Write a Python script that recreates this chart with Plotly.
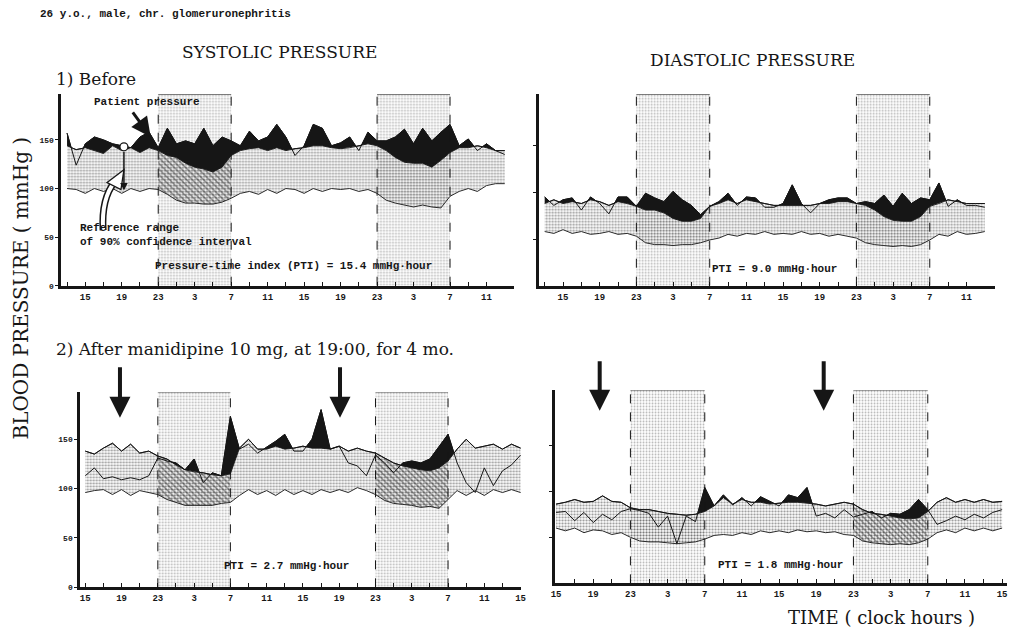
import plotly.graph_objects as go

W, H = 1020, 632

# ---------------- data ----------------
hours_before = list(range(13, 62))   # clock hours, continuous (24 = 0:00 of day 2)
hours_after = list(range(15, 64))

night_periods = [(23, 31), (47, 55)]

# 1) Before - systolic
sys_before_upper = [144, 140, 142, 139, 136, 144, 139, 142, 137, 142,
                    139, 134, 132, 126, 122, 120, 117, 122, 134, 139,
                    141, 142, 139, 142, 139, 141, 142, 144, 144, 142,
                    141, 142, 144, 146, 144, 139, 132, 127, 126, 126,
                    122, 129, 137, 142, 142, 144, 142, 139, 139]
sys_before_lower = [100, 99, 95, 100, 97, 100, 95, 100, 97, 100,
                    99, 94, 88, 85, 85, 84, 84, 86, 90, 95,
                    97, 94, 99, 95, 100, 99, 95, 100, 97, 100,
                    99, 100, 97, 99, 95, 88, 85, 83, 81, 83,
                    81, 80, 92, 97, 100, 97, 103, 105, 105]
sys_before_patient = [157, 124, 146, 153, 150, 146, 144, 142, 153, 158,
                      142, 162, 146, 149, 146, 162, 144, 153, 149, 144,
                      159, 149, 153, 166, 153, 134, 144, 166, 162, 144,
                      147, 153, 139, 158, 149, 149, 153, 161, 146, 162,
                      149, 158, 166, 144, 151, 139, 146, 139, 135]

# 1) Before - diastolic
dia_before_upper = [88, 92, 88, 90, 88, 92, 90, 86, 90, 88,
                    85, 81, 81, 78, 72, 69, 69, 72, 85, 88,
                    92, 88, 92, 90, 88, 86, 86, 86, 86, 86,
                    88, 88, 90, 90, 88, 86, 81, 74, 70, 69,
                    69, 74, 85, 88, 92, 90, 88, 88, 88]
dia_before_lower = [58, 56, 60, 56, 58, 55, 56, 58, 55, 56,
                    53, 46, 44, 44, 43, 44, 44, 46, 49, 51,
                    55, 53, 56, 55, 58, 55, 56, 55, 58, 55,
                    56, 53, 55, 53, 51, 46, 44, 43, 42, 43,
                    42, 44, 49, 55, 53, 58, 55, 56, 58]
dia_before_patient = [95, 86, 92, 94, 81, 95, 88, 77, 95, 95,
                      85, 99, 94, 90, 101, 92, 86, 76, 85, 90,
                      99, 86, 95, 94, 84, 84, 88, 108, 88, 78,
                      88, 92, 94, 94, 88, 90, 88, 97, 85, 99,
                      88, 94, 92, 110, 85, 92, 86, 86, 84]

# 2) After manidipine - systolic
sys_after_upper = [138, 135, 141, 146, 138, 145, 136, 138,
                   133, 130, 124, 119, 117, 116, 114, 113, 115,
                   141, 150, 140, 140, 143, 140, 141,
                   143, 141, 141, 140, 143, 138, 141, 138,
                   136, 131, 126, 123, 121, 119, 118, 121, 128,
                   140, 150, 141, 143, 145, 140, 145, 141]
sys_after_lower = [96, 98, 99, 94, 99, 93, 98, 96,
                   94, 89, 86, 83, 83, 83, 83, 85, 86,
                   93, 99, 94, 98, 93, 99, 94,
                   98, 94, 99, 96, 99, 96, 101, 98,
                   94, 88, 85, 84, 83, 81, 82, 80, 89,
                   98, 93, 98, 93, 99, 96, 99, 96]
sys_after_patient = [113, 121, 110, 112, 109, 111, 109, 113,
                     131, 128, 126, 119, 130, 106, 116, 113, 173,
                     140, 145, 136, 142, 148, 155, 138,
                     138, 150, 180, 140, 143, 126, 123, 113,
                     134, 126, 116, 126, 128, 126, 130, 143, 155,
                     126, 106, 96, 121, 103, 118, 124, 134]

# 2) After manidipine - diastolic
dia_after_upper = [86, 88, 91, 88, 89, 95, 89, 88,
                   82, 80, 80, 78, 76, 75, 74, 75, 78,
                   84, 93, 86, 91, 88, 88, 86,
                   87, 88, 88, 87, 86, 84, 86, 88,
                   86, 80, 76, 75, 73, 71, 70, 71, 78,
                   88, 93, 88, 91, 88, 91, 88, 89]
dia_after_lower = [60, 57, 60, 55, 58, 57, 53, 55,
                   50, 46, 45, 45, 44, 43, 44, 45, 48,
                   52, 53, 52, 55, 53, 57, 55,
                   57, 55, 58, 56, 57, 55, 56, 53,
                   52, 46, 44, 43, 42, 43, 42, 44, 48,
                   55, 58, 55, 60, 57, 60, 57, 60]
dia_after_patient = [77, 78, 68, 77, 66, 75, 69, 78,
                     81, 79, 76, 61, 73, 43, 73, 67, 104,
                     84, 96, 85, 93, 84, 94, 89,
                     84, 96, 93, 104, 73, 76, 71, 80,
                     72, 75, 78, 71, 76, 75, 80, 91, 80,
                     64, 68, 73, 69, 75, 71, 77, 80]

pti_texts = ["Pressure-time index (PTI) = 15.4 mmHg\u00b7hour",
             "PTI = 9.0 mmHg\u00b7hour",
             "PTI = 2.7 mmHg\u00b7hour",
             "PTI = 1.8 mmHg\u00b7hour"]
y_ticks = [0, 50, 100, 150]

# ---------------- layout helpers ----------------
SERIF = "DejaVu Serif"
MONO = "Liberation Mono"
INK = "#161616"


def fx(x):
    return x / W


def fy(y):
    return 1 - y / H


# pixel frame of each panel: x-domain, position of the first 15:00 tick,
# pixels per hour, y-domain (top, bottom), top value of the y range
panels = [
    dict(n="", hours=hours_before, up=sys_before_upper, lo=sys_before_lower,
         pt=sys_before_patient, dx=(58, 515), p15=82, s=9.2, dy=(95, 288),
         ytop=197, last=59, ylabels=True, hatch=[0],
         pti=(150, 268)),
    dict(n="2", hours=hours_before, up=dia_before_upper, lo=dia_before_lower,
         pt=dia_before_patient, dx=(540, 1000), p15=564, s=9.25, dy=(95, 288),
         ytop=205, last=59, ylabels=False, hatch=[],
         pti=(712, 271)),
    dict(n="3", hours=hours_after, up=sys_after_upper, lo=sys_after_lower,
         pt=sys_after_patient, dx=(77, 522), p15=82, s=9.15, dy=(395, 592),
         ytop=198, last=63, ylabels=True, hatch=[0, 1],
         pti=(220, 571)),
    dict(n="4", hours=hours_after, up=dia_after_upper, lo=dia_after_lower,
         pt=dia_after_patient, dx=(556, 1012), p15=557, s=9.375, dy=(393, 588),
         ytop=210, last=63, ylabels=False, hatch=[1],
         pti=(718, 570)),
]


def excess_band(h, p, u):
    """Points of the region where the patient curve lies above the upper limit."""
    xs, base, top = [], [], []
    for i in range(len(h)):
        if i > 0:
            d0 = p[i - 1] - u[i - 1]
            d1 = p[i] - u[i]
            if d0 * d1 < 0:
                t = d0 / (d0 - d1)
                xc = h[i - 1] + t * (h[i] - h[i - 1])
                yc = u[i - 1] + t * (u[i] - u[i - 1])
                xs.append(xc); base.append(yc); top.append(yc)
        xs.append(h[i]); base.append(u[i]); top.append(max(p[i], u[i]))
    return xs, base, top


def hour_label(h):
    return str(h % 24)


fig = go.Figure()
layout_axes = {}
shapes = []
annotations = []

box_pattern = dict(shape=".", fgcolor="#6a6a6a", bgcolor="white", size=3, solidity=0.3)
band_pattern = dict(shape=".", fgcolor="#2e2e2e", bgcolor="rgba(0,0,0,0)", size=3, solidity=0.42)
hatch_pattern = dict(shape="\\", fgcolor="#222222", bgcolor="rgba(0,0,0,0)", size=4, solidity=0.35)

for p in panels:
    xa = "x" + p["n"]
    ya = "y" + p["n"]
    h = p["hours"]
    common = dict(xaxis=xa, yaxis=ya, showlegend=False, hoverinfo="skip")

    # night boxes
    for a, b in night_periods:
        fig.add_trace(go.Scatter(x=[a, b, b, a, a], y=[0, 0, p["ytop"], p["ytop"], 0],
                                 mode="lines", line=dict(width=0), fill="toself",
                                 fillcolor="rgba(0,0,0,0)", fillpattern=box_pattern, **common))
    # reference range band
    fig.add_trace(go.Scatter(x=h, y=p["lo"], mode="lines",
                             line=dict(color="#2a2a2a", width=1), **common))
    fig.add_trace(go.Scatter(x=h, y=p["up"], mode="lines", fill="tonexty",
                             fillcolor="rgba(0,0,0,0)", fillpattern=band_pattern,
                             line=dict(color="#2a2a2a", width=1), **common))
    # hatched night part of the band
    for k in p["hatch"]:
        a, b = night_periods[k]
        idx = [i for i, t in enumerate(h) if a <= t <= b]
        hx = [h[i] for i in idx]
        fig.add_trace(go.Scatter(x=hx, y=[p["lo"][i] for i in idx], mode="lines",
                                 line=dict(width=0), **common))
        fig.add_trace(go.Scatter(x=hx, y=[p["up"][i] for i in idx], mode="lines",
                                 fill="tonexty", fillcolor="rgba(0,0,0,0)",
                                 fillpattern=hatch_pattern, line=dict(width=0), **common))
    # patient pressure above the reference range (black)
    xs, base, top = excess_band(h, p["pt"], p["up"])
    fig.add_trace(go.Scatter(x=xs, y=base, mode="lines", line=dict(width=0), **common))
    fig.add_trace(go.Scatter(x=xs, y=top, mode="lines", fill="tonexty", fillcolor=INK,
                             line=dict(color=INK, width=1), **common))
    # patient pressure curve
    fig.add_trace(go.Scatter(x=h, y=p["pt"], mode="lines",
                             line=dict(color=INK, width=1), **common))

    # axes
    d0, d1 = p["dx"]
    r0 = 15 + (d0 - p["p15"]) / p["s"]
    r1 = 15 + (d1 - p["p15"]) / p["s"]
    tickvals = list(range(13 if h[0] == 13 else 15, p["last"] + 1, 2))
    ticktext = [hour_label(t) if (t - 15) % 4 == 0 else "" for t in tickvals]
    xkey = "xaxis" + p["n"]
    ykey = "yaxis" + p["n"]
    layout_axes[xkey] = dict(domain=[fx(d0), fx(d1)], range=[r0, r1], anchor=ya,
                             showline=True, linewidth=3, linecolor=INK, showgrid=False,
                             zeroline=False, ticks="inside", ticklen=4, tickwidth=1,
                             tickcolor=INK, tickvals=tickvals, ticktext=ticktext,
                             tickfont=dict(family=MONO, size=9, color=INK, weight="bold"),
                             fixedrange=True)
    ty, by = p["dy"]
    layout_axes[ykey] = dict(domain=[fy(by), fy(ty)], range=[0, p["ytop"]], anchor=xa,
                             showline=True, linewidth=3, linecolor=INK, showgrid=False,
                             zeroline=False, ticks="outside", ticklen=3, tickwidth=1,
                             tickcolor=INK,
                             tickvals=y_ticks if p["ylabels"] else y_ticks[1:],
                             showticklabels=p["ylabels"],
                             tickfont=dict(family=MONO, size=8, color=INK, weight="bold"),
                             fixedrange=True)

    # night box outlines
    for a, b in night_periods:
        for xv in (a, b):
            shapes.append(dict(type="line", xref=xa, yref=ya, x0=xv, x1=xv, y0=0,
                               y1=p["ytop"], line=dict(color=INK, width=1, dash="dash")))
        shapes.append(dict(type="line", xref=xa, yref=ya, x0=a, x1=b, y0=p["ytop"],
                           y1=p["ytop"], line=dict(color=INK, width=1)))

# ---------------- texts ----------------
def label(text, x, y, size, family=SERIF, xanchor="left", bold=False, angle=0):
    annotations.append(dict(text=text, xref="paper", yref="paper", x=fx(x), y=fy(y),
                            xanchor=xanchor, yanchor="middle", showarrow=False,
                            textangle=angle,
                            font=dict(family=family, size=size, color=INK,
                                      weight="bold" if bold else "normal")))


label("26 y.o., male, chr. glomeruronephritis", 34, 14, 11, MONO, bold=True)
label("SYSTOLIC PRESSURE", 278, 52, 17, xanchor="center")
label("DIASTOLIC PRESSURE", 755, 60, 17, xanchor="center")
label("1) Before", 50, 80, 17)
label("2) After manidipine 10 mg, at 19:00, for 4 mo.", 50, 352, 17)
label("BLOOD PRESSURE ( mmHg )", 17, 290, 20, xanchor="center", angle=-90)
label("TIME ( clock hours )", 885, 622, 18, xanchor="center")
label("Patient pressure", 89, 103, 11, MONO, bold=True)
annotations.append(dict(text="Reference range<br>of 90% confidence interval", xref="paper",
                        yref="paper", x=fx(75), y=fy(237), xanchor="left", yanchor="middle",
                        align="left", showarrow=False,
                        font=dict(family=MONO, size=11, color=INK, weight="bold")))
for p, t in zip(panels, pti_texts):
    label(t, p["pti"][0], p["pti"][1], 11, MONO, bold=True)

# ---------------- arrows ----------------
def arrow(x0, y0, x1, y1, width, size, head=2, side="end"):
    # tail offset is given in pixels relative to the tip
    annotations.append(dict(x=fx(x1), y=fy(y1), ax=x0 - x1, ay=y0 - y1, xref="paper",
                            yref="paper", text="", showarrow=True, arrowhead=head,
                            arrowsize=size, arrowwidth=width, arrowcolor=INK,
                            arrowside=side))


# "Patient pressure" pointer
arrow(129, 112, 148, 138, 3, 1.3)
# reference range span
arrow(121, 152, 121, 192, 1.5, 1.0)
shapes.append(dict(type="circle", xref="paper", yref="paper", x0=fx(117), x1=fx(125),
                   y0=fy(152), y1=fy(144), line=dict(color=INK, width=1.2),
                   fillcolor="white"))
# hollow pointer to the reference range
path = "M {} {} Q {} {} {} {}".format(fx(100), fy(232), fx(98), fy(200), fx(112), fy(183))
shapes.append(dict(type="path", xref="paper", yref="paper", path=path,
                   line=dict(color=INK, width=7)))
shapes.append(dict(type="path", xref="paper", yref="paper", path=path,
                   line=dict(color="white", width=4)))
tri = "M {} {} L {} {} L {} {} Z".format(fx(104), fy(184), fx(121), fy(171), fx(118), fy(191))
shapes.append(dict(type="path", xref="paper", yref="paper", path=tri,
                   line=dict(color=INK, width=1.3), fillcolor="white"))

# dosing time markers
for x in (117, 339):
    arrow(x, 369, x, 421, 4, 1.05)
for x in (601, 827):
    arrow(x, 363, x, 414, 4, 1.05)

fig.update_layout(
    width=W, height=H,
    margin=dict(l=0, r=0, t=0, b=0),
    paper_bgcolor="white", plot_bgcolor="white",
    shapes=shapes, annotations=annotations,
    **layout_axes,
)

fig.write_html("out.html")
